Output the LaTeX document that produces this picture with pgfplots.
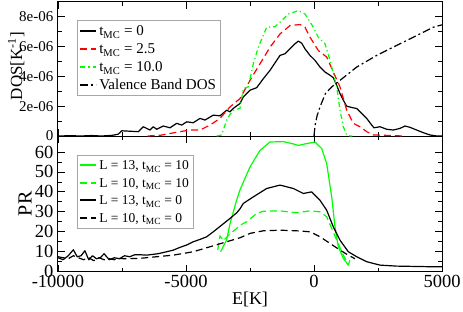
\documentclass[border=0pt]{standalone}
\usepackage{fontspec}
\setmainfont{Liberation Serif}
\usepackage{pgfplots}
\pgfplotsset{compat=1.18}
\definecolor{ggreen}{RGB}{0,255,0}
\newcommand\tstrut{\rule[-5pt]{0pt}{16.5pt}}
\newcommand\bstrut{\rule[-4.5pt]{0pt}{15pt}}
\pgfplotsset{
  common/.style={
    scale only axis, width=384pt,
    xmin=-10000, xmax=5000,
    xtick={-10000,-5000,0,5000},
    minor x tick num=1, minor y tick num=1,
    major tick length=7pt, minor tick length=4pt,
    tick style={black, line width=0.8pt},
    axis line style={line width=1pt},
    scaled y ticks=false, scaled x ticks=false,
    yticklabel style={inner sep=0pt, xshift=-4.5pt},
    legend cell align=left,
    every axis plot/.append style={line width=1.2pt, line join=round},
    legend image code/.code={\draw[#1, line width=1.9pt] (0pt,0pt) -- (16pt,0pt);},
  },
  dsh/.style={dash pattern=on 7pt off 4pt},
  ddot/.style={dash pattern=on 5pt off 3pt on 1.2pt off 3pt},
  dashdot/.style={dash pattern=on 8pt off 3pt on 2pt off 3pt},
}
\begin{document}
\begin{tikzpicture}
\path[use as bounding box] (-58pt,-39.3pt) rectangle (405pt,271.7pt);
% ---------------- bottom panel: PR ----------------
\begin{axis}[common,
  at={(0pt,0pt)}, anchor=south west, height=135.7pt,
  ymin=0, ymax=68,
  xticklabels={-10000,-5000,0,5000},
  ytick={0,10,20,30,40,50,60},
  yticklabels={0,10,20,30,40,50,60},
  ticklabel style={font=\fontsize{18.5}{20}\selectfont},
  xticklabel style={inner sep=0pt, yshift=-3.3pt},
  xlabel={E[K]},
  xlabel style={font=\fontsize{18}{20}\selectfont, at={(axis description cs:0.5,-0.201)}, anchor=center},
  ylabel={PR},
  ylabel style={font=\fontsize{20}{22}\selectfont, at={(axis description cs:-0.086,0.5)}, anchor=center},
  legend style={at={(0.0495,0.86)}, anchor=north west, draw=gray!70, line width=0.8pt,
    font=\fontsize{13.5}{15}\selectfont, inner sep=2pt, row sep=1.5pt},
]
\addplot[ggreen] coordinates {
(-3650,10) (-3410,16) (-3281,24) (-3020,36) (-2891,41) (-2500,52.5) (-2109,60.8)
(-1719,65) (-1200,65.2) (-800,64) (-613,63.3) (-285,64.2) (39,65) (301,61.7)
(496,54.2) (691,37.5) (820,22.5) (949,12.5) (1145,6.7) (1340,3.3)};
\addlegendentry{\bstrut L = 13, t\textsubscript{MC} = 10}
\addplot[ggreen, dsh] coordinates {
(-3760,11) (-3672,18) (-3541,15.5) (-3281,19) (-3020,21.7) (-2891,23.3) (-2630,25)
(-2238,29.2) (-1980,30.3) (-1328,30.5) (-676,29.5) (-156,30.5) (234,30) (496,27.5)
(691,21.7) (887,15.8) (1145,8.3) (1340,3.3) (1420,6.5)};
\addlegendentry{\bstrut L = 10, t\textsubscript{MC} = 10}
\addplot[black] coordinates {
(-10000,7) (-9800,6) (-9600,8) (-9400,11) (-9250,7.5) (-9100,8) (-8950,10.5)
(-8800,6) (-8650,8) (-8500,6.5) (-8350,7) (-8200,9) (-8000,6) (-7800,7)
(-7600,6.5) (-7400,8) (-7200,7.5) (-7000,8.5) (-6800,8.5) (-6536,8.3)
(-6100,9) (-5754,10) (-5500,10.8) (-5234,12.2) (-4950,13.5) (-4715,15) (-4450,16.2) (-4191,17.5)
(-3934,20) (-3543,24) (-3281,26.7) (-3020,29.5) (-2891,31.5) (-2762,34.2) (-2371,37.5)
(-1848,41.7) (-1328,43.4) (-808,41.7) (-418,39.2) (-90,40) (234,35.8) (496,30.8)
(754,22.5) (1016,15.8) (1340,10) (1668,7.5) (2059,5) (2578,3.3) (3230,2.8) (4531,2.5) (5000,2.5)};
\addlegendentry{\bstrut L = 13, t\textsubscript{MC} = 0}
\addplot[black, dsh] coordinates {
(-10000,7.5) (-9800,7) (-9600,6.5) (-9400,8) (-9200,7) (-9000,6) (-8800,7)
(-8600,5.5) (-8400,7) (-8200,6) (-8000,6.5) (-7800,6) (-7707,6.7) (-7400,6.5)
(-7000,6.6) (-6797,6.7) (-6145,7.5) (-5496,8.3) (-4715,10) (-4063,12.5) (-3410,15)
(-3281,15.5) (-2891,17) (-2500,19.2) (-1980,20.5) (-1328,20.8) (-676,20.5) (-156,20)
(234,17.5) (625,14.2) (1016,10.8) (1340,8.3) (1600,6.5)};
\addlegendentry{\bstrut L = 10, t\textsubscript{MC} = 0}
\end{axis}
% ---------------- top panel: DOS ----------------
\begin{axis}[common,
  at={(0pt,135.7pt)}, anchor=south west, height=134.3pt,
  ymin=0, ymax=9e-6,
  xticklabels={},
  ytick={0,2e-6,4e-6,6e-6,8e-6},
  yticklabels={0,2e-06,4e-06,6e-06,8e-06},
  ticklabel style={font=\fontsize{15}{17}\selectfont},
  ylabel={DOS[K\textsuperscript{-1}]},
  ylabel style={font=\fontsize{17}{19}\selectfont, at={(axis description cs:-0.109,0.52)}, anchor=center},
  legend style={at={(0.0495,0.8637)}, anchor=north west, draw=gray!70, line width=0.8pt,
    font=\fontsize{15}{17}\selectfont, inner sep=2pt, row sep=1pt},
]
\addplot[black] coordinates {
(-10000,0) (-9500,0.02e-6) (-9100,0) (-8700,0.03e-6) (-8300,0) (-7900,0.04e-6) (-7650,0.12e-6)
(-7512,0.35e-6) (-6863,0.29e-6) (-6668,0.62e-6) (-6406,0.4e-6) (-6277,0.62e-6) (-6145,0.45e-6)
(-5887,0.67e-6) (-5625,0.55e-6) (-5363,0.85e-6) (-5168,0.73e-6) (-4973,0.95e-6) (-4715,0.89e-6)
(-4453,1.18e-6) (-4258,1.07e-6) (-3934,1.4e-6) (-3672,1.35e-6) (-3410,1.73e-6) (-3281,1.62e-6)
(-3152,1.85e-6) (-2891,2.18e-6) (-2762,2.62e-6) (-2500,3.07e-6) (-2238,3.24e-6) (-1980,3.84e-6)
(-1719,4.4e-6) (-1457,5.07e-6) (-1328,5.4e-6) (-1133,5.51e-6) (-938,5.84e-6) (-742,6.18e-6)
(-613,6.36e-6) (-480,6.22e-6) (-352,5.84e-6) (-156,5.4e-6) (39,5.07e-6) (234,4.62e-6)
(430,4.29e-6) (625,4.07e-6) (754,3.91e-6) (887,3.4e-6) (1016,2.84e-6) (1145,2.4e-6)
(1277,2.0e-6) (1473,1.91e-6) (1668,1.84e-6) (1863,1.51e-6) (2059,1.18e-6) (2254,0.73e-6)
(2344,0.55e-6) (2578,0.62e-6) (2840,0.45e-6) (3098,0.4e-6) (3359,0.51e-6) (3555,0.67e-6)
(3750,0.58e-6) (4012,0.4e-6) (4270,0.22e-6) (4531,0.07e-6) (4800,0) (5000,0)};
\addlegendentry{\tstrut t\textsubscript{MC} = 0}
\addplot[red, dsh] coordinates {
(-6500,0) (-6000,0.05e-6) (-5234,0.29e-6) (-4844,0.4e-6) (-4453,0.4e-6) (-4063,0.73e-6)
(-3672,1.18e-6) (-3281,1.95e-6) (-2891,2.51e-6) (-2500,3.73e-6) (-2109,4.84e-6)
(-1719,5.95e-6) (-1328,6.84e-6) (-938,7.4e-6) (-547,7.47e-6) (-352,7.29e-6) (-156,6.62e-6)
(168,5.73e-6) (496,5.29e-6) (754,4.29e-6) (1016,3.29e-6) (1277,1.73e-6) (1535,0.85e-6)
(1797,0.62e-6) (2059,0.29e-6) (2316,0.07e-6) (2707,0.05e-6) (3488,0)};
\addlegendentry{\tstrut t\textsubscript{MC} = 2.5}
\addplot[ggreen, ddot] coordinates {
(-3800,0) (-3606,0.07e-6) (-3410,1.07e-6) (-3281,1.45e-6) (-3152,1.73e-6) (-2891,1.85e-6)
(-2762,3.18e-6) (-2566,3.29e-6) (-2371,4.84e-6) (-2176,5.95e-6) (-1848,7.29e-6)
(-1523,7.33e-6) (-1262,7.73e-6) (-1004,8.18e-6) (-613,8.4e-6) (-352,8.18e-6) (-27,7.29e-6)
(168,6.62e-6) (430,6.18e-6) (625,5.07e-6) (887,3.29e-6) (1016,1.73e-6) (1145,0.62e-6)
(1277,0.07e-6) (1406,0) (1500,0)};
\addlegendentry{\tstrut t\textsubscript{MC} = 10.0}
\addplot[black, dashdot] coordinates {
(0,0) (40,0.7e-6) (120,1.35e-6) (234,1.95e-6) (449,2.85e-6) (700,3.3e-6) (1016,3.73e-6)
(1668,4.62e-6) (2449,5.4e-6) (3229,6.07e-6) (4010,6.73e-6) (4661,7.29e-6) (5000,7.45e-6)};
\addlegendentry{\tstrut Valence Band DOS}
\end{axis}
\end{tikzpicture}
\end{document}
